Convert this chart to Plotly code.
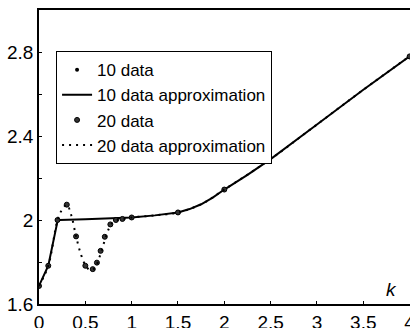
import plotly.graph_objects as go

# ---- data ----
k10 = [0, 0.1, 0.2, 1.0, 1.5, 2.0, 4.0]
y10 = [1.686, 1.782, 2.0, 2.012, 2.036, 2.145, 2.779]

k10_fit = [0, 0.1, 0.2, 0.22, 0.5, 1.0, 1.25, 1.5, 1.625, 1.75, 1.875, 2.0, 2.25, 2.5, 3.0, 3.5, 4.0]
y10_fit = [1.686, 1.782, 1.995, 2.0, 2.003, 2.012, 2.022, 2.036, 2.052, 2.075, 2.107, 2.145, 2.215, 2.29, 2.455, 2.62, 2.78]

k20 = [0, 0.1, 0.2, 0.3, 0.4, 0.5, 0.58, 0.625, 0.665, 0.71, 0.77, 0.83, 0.9, 1.0, 1.5, 2.0, 4.0]
y20 = [1.686, 1.782, 2.0, 2.073, 1.922, 1.782, 1.766, 1.797, 1.853, 1.92, 1.979, 2.0, 2.005, 2.012, 2.036, 2.145, 2.779]

k20_fit = [0, 0.1, 0.2, 0.25, 0.3, 0.35, 0.4, 0.45, 0.5, 0.55, 0.6, 0.65, 0.7, 0.75, 0.8, 0.85, 0.9,
           1.0, 1.25, 1.5, 1.75, 2.0, 2.5, 3.0, 3.5, 4.0]
y20_fit = [1.686, 1.782, 2.0, 2.05, 2.073, 2.02, 1.922, 1.84, 1.785, 1.762, 1.77, 1.82, 1.89, 1.955, 1.99, 2.0, 2.004,
           2.012, 2.022, 2.036, 2.075, 2.145, 2.29, 2.455, 2.62, 2.78]

x_ticks = [0, 0.5, 1, 1.5, 2, 2.5, 3, 3.5, 4]
x_labels = ["0", "0.5", "1", "1.5", "2", "2.5", "3", "3.5", "4"]
y_ticks = [1.6, 1.8, 2.0, 2.2, 2.4, 2.6, 2.8]
y_labels = ["1.6", "", "2", "", "2.4", "", "2.8"]

FONT = "Arial, Liberation Sans, sans-serif"

fig = go.Figure()
fig.add_trace(go.Scatter(x=k10, y=y10, mode="markers", name="10 data",
                         marker=dict(color="black", size=4, symbol="circle")))
fig.add_trace(go.Scatter(x=k10_fit, y=y10_fit, mode="lines", name="10 data approximation",
                         line=dict(color="black", width=2)))
fig.add_trace(go.Scatter(x=k20, y=y20, mode="markers", name="20 data",
                         marker=dict(color="#333333", size=5, symbol="circle",
                                     line=dict(color="black", width=1))))
fig.add_trace(go.Scatter(x=k20_fit, y=y20_fit, mode="lines", name="20 data approximation",
                         line=dict(color="black", width=2, dash="2px,5px", shape="spline", smoothing=1)))

fig.update_layout(
    width=410, height=328,
    margin=dict(l=39, r=0, t=10, b=24),
    paper_bgcolor="white", plot_bgcolor="white",
    font=dict(family=FONT, color="black", size=19),
    showlegend=True,
    legend=dict(x=0.046, y=0.86, xanchor="left", yanchor="top",
                bordercolor="black", borderwidth=1, bgcolor="white",
                font=dict(family=FONT, size=17, color="black")),
    annotations=[dict(text="<i>k</i>", x=0.949, y=0.051, xref="paper", yref="paper",
                      xanchor="center", yanchor="middle",
                      showarrow=False, font=dict(family=FONT, size=19, color="black"))],
)
fig.update_xaxes(range=[0, 4.004], tickvals=x_ticks, ticktext=x_labels, ticks="inside", ticklen=3,
                 tickcolor="black", showline=True, linecolor="black", linewidth=1.5, mirror=True,
                 showgrid=False, zeroline=False, tickfont=dict(size=19), ticklabeloverflow="allow",
                 automargin=False)
fig.update_yaxes(range=[1.6, 3.0], tickvals=y_ticks, ticktext=y_labels, ticks="inside", ticklen=3,
                 tickcolor="black", showline=True, linecolor="black", linewidth=1.5, mirror=False,
                 showgrid=False, zeroline=False, tickfont=dict(size=19), automargin=False)

fig.write_html("out.html")
